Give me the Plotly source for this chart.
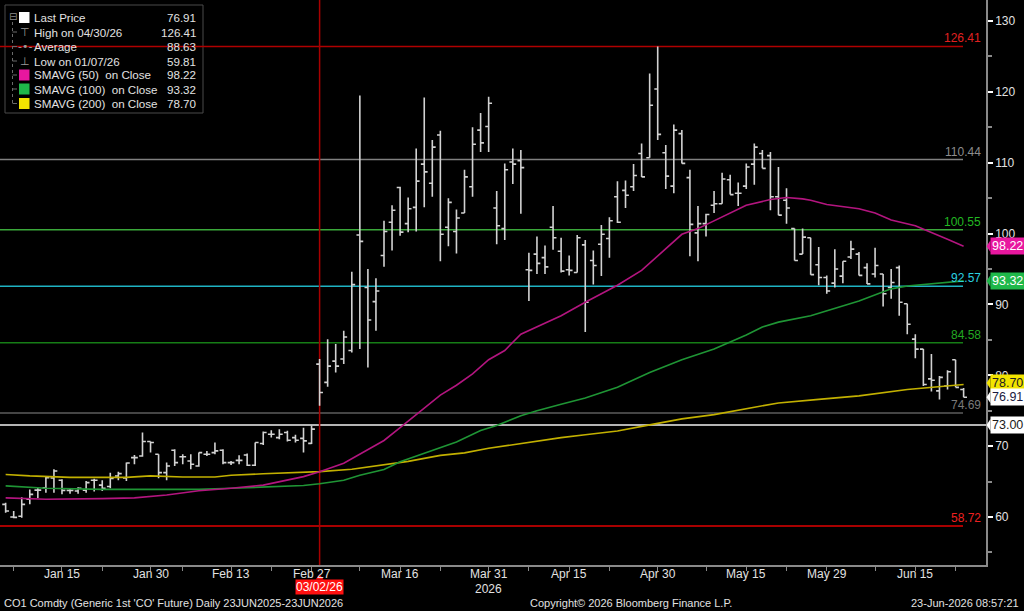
import pandas as pd
import plotly.graph_objects as go

# ---------------- data ----------------
trade_dates = [d.strftime("%Y-%m-%d") for d in pd.bdate_range("2026-01-06", "2026-06-23")
               if d.strftime("%Y-%m-%d") != "2026-04-03"]

opens = [61.78, 60.00, 60.10, 62.50, 63.80, 64.14, 65.50, 65.18, 63.76, 63.67,
         63.80, 65.18, 64.50, 64.30, 65.79, 65.50, 68.38, 68.62, 70.65, 68.86,
         66.26, 69.42, 68.50, 67.91, 67.21, 68.86, 69.09, 69.42, 67.68, 68.00,
         68.76, 67.30, 70.37, 71.69, 71.21, 71.92, 71.21, 71.10, 70.40, 81.58,
         79.00, 82.00, 82.30, 83.50, 99.80, 92.40, 90.40, 96.90, 101.60, 106.50,
         101.40, 103.70, 109.80, 107.10, 113.90, 100.90, 100.30, 102.90, 106.60, 114.60,
         115.10, 103.60, 100.70, 110.10, 110.30, 94.90, 97.10, 96.60, 100.90, 97.50,
         94.90, 94.50, 98.40, 96.20, 98.50, 99.30, 105.20, 106.10, 106.60, 111.30,
         110.70, 120.40, 111.40, 106.70, 114.10, 107.90, 100.10, 101.40, 104.00, 104.20,
         107.60, 105.70, 106.70, 109.80, 111.30, 111.00, 105.20, 104.70, 100.70, 97.10,
         99.40, 95.60, 93.80, 93.00, 94.00, 96.70, 97.10, 95.20, 94.30, 94.30,
         92.40, 95.20, 90.10, 85.10, 83.70, 79.50, 77.80, 78.50, 82.20, 78.00]
highs = [62.02, 60.84, 62.80, 63.90, 64.14, 65.65, 66.73, 65.32, 64.05, 64.20,
         65.08, 65.40, 65.18, 66.26, 66.40, 67.68, 68.76, 71.92, 70.65, 68.86,
         67.68, 69.56, 68.86, 68.86, 69.09, 69.33, 70.51, 69.56, 67.91, 68.71,
         68.95, 70.51, 72.06, 72.25, 72.40, 72.16, 71.60, 72.60, 72.90, 82.30,
         85.10, 84.40, 86.30, 94.60, 119.50, 95.00, 93.70, 101.80, 104.00, 106.60,
         105.10, 112.00, 119.20, 113.20, 114.50, 105.00, 103.40, 109.00, 115.00, 117.00,
         119.30, 106.00, 109.90, 112.00, 111.80, 97.30, 99.60, 98.30, 103.90, 99.40,
         96.90, 99.80, 99.10, 97.60, 101.20, 102.30, 107.40, 107.50, 109.80, 112.70,
         122.60, 126.41, 112.50, 115.40, 114.60, 109.00, 103.90, 102.80, 106.00, 108.60,
         108.30, 107.20, 109.90, 112.70, 111.80, 111.50, 109.40, 106.40, 100.70, 100.70,
         99.40, 98.10, 94.10, 97.80, 96.10, 99.00, 97.40, 95.80, 98.00, 94.30,
         95.00, 95.50, 90.10, 85.80, 83.70, 83.00, 79.90, 80.70, 82.20, 78.20]
lows = [60.60, 59.81, 59.90, 61.80, 62.70, 63.43, 63.43, 63.20, 63.30, 63.30,
        63.43, 63.60, 63.67, 64.05, 65.18, 65.08, 67.44, 68.50, 69.09, 65.46,
        65.18, 67.21, 67.44, 66.73, 67.11, 68.62, 68.86, 67.44, 67.35, 67.44,
        67.21, 67.21, 70.18, 71.21, 70.98, 70.65, 70.51, 69.10, 70.30, 75.70,
        78.40, 80.40, 81.60, 83.20, 83.70, 81.10, 86.30, 95.30, 97.60, 99.70,
        100.20, 100.30, 103.70, 105.20, 96.10, 98.20, 97.20, 102.90, 105.20, 111.50,
        111.50, 98.50, 99.10, 107.00, 102.80, 90.50, 94.30, 94.30, 97.70, 94.50,
        94.10, 94.50, 86.10, 92.80, 94.00, 96.60, 101.50, 103.60, 106.00, 108.00,
        110.70, 113.20, 106.30, 105.70, 109.90, 96.80, 96.10, 99.60, 102.90, 104.20,
        105.50, 103.90, 106.30, 106.90, 109.20, 103.30, 102.60, 101.40, 96.20, 97.10,
        94.20, 92.70, 91.50, 92.40, 93.00, 96.40, 94.10, 92.90, 93.80, 89.70,
        90.80, 88.40, 85.80, 82.40, 78.50, 77.70, 76.60, 78.00, 78.30, 76.90]
closes = [60.84, 59.95, 61.78, 63.20, 63.80, 65.56, 66.50, 63.76, 63.76, 64.05,
          64.85, 65.18, 64.05, 65.46, 66.12, 67.63, 68.38, 70.65, 70.51, 66.26,
          67.21, 67.68, 68.50, 67.44, 69.09, 68.86, 69.33, 67.68, 67.68, 68.00,
          67.30, 70.51, 71.92, 71.69, 71.69, 70.84, 70.84, 70.74, 72.40, 77.57,
          81.30, 81.30, 85.40, 92.80, 98.90, 87.80, 91.90, 100.30, 103.30, 100.20,
          103.50, 107.40, 108.70, 112.20, 99.90, 104.40, 102.20, 108.00, 112.60, 112.80,
          118.40, 101.10, 109.00, 109.80, 109.30, 94.80, 95.80, 95.30, 99.40, 94.70,
          94.80, 99.40, 90.30, 95.50, 99.90, 101.80, 101.60, 105.40, 108.20, 108.00,
          118.10, 114.00, 108.10, 114.60, 109.90, 101.30, 101.40, 102.70, 104.20, 107.70,
          105.50, 105.70, 109.40, 112.20, 109.20, 105.20, 102.60, 103.60, 96.20, 99.50,
          94.20, 93.80, 91.90, 95.00, 96.10, 97.80, 94.10, 92.90, 95.50, 91.50,
          93.10, 90.30, 87.20, 83.70, 78.70, 79.30, 79.70, 80.50, 78.30, 76.91]

sma50_dates = ["2026-01-06", "2026-01-13", "2026-01-22", "2026-01-28", "2026-02-03", "2026-02-09",
               "2026-02-13", "2026-02-19", "2026-02-26", "2026-03-02", "2026-03-05", "2026-03-09",
               "2026-03-12", "2026-03-16", "2026-03-19", "2026-03-23", "2026-03-25", "2026-03-27",
               "2026-03-31", "2026-04-02", "2026-04-07", "2026-04-10", "2026-04-14", "2026-04-17",
               "2026-04-23", "2026-04-28", "2026-04-30", "2026-05-05", "2026-05-07", "2026-05-12",
               "2026-05-15", "2026-05-20", "2026-05-22", "2026-05-26", "2026-05-27", "2026-05-29",
               "2026-06-03", "2026-06-04", "2026-06-08", "2026-06-10", "2026-06-15", "2026-06-17",
               "2026-06-19", "2026-06-23"]
sma50_vals = [62.7, 62.5, 62.6, 62.7, 63.1, 63.7, 64.05, 64.5, 65.7, 66.4, 67.6, 68.9,
              70.8, 72.6, 75.3, 77.2, 78.6, 80.2, 82.2, 83.5, 85.8, 87.3, 88.4, 90.3,
              92.7, 94.8, 96.8, 99.9, 100.7, 102.4, 104.0, 104.8, 105.1, 104.9, 104.7, 104.1,
              103.6, 103.5, 102.9, 101.9, 101.1, 100.2, 99.2, 98.22]

sma100_dates = ["2026-01-06", "2026-01-13", "2026-01-22", "2026-02-09", "2026-02-13", "2026-02-19",
                "2026-02-26", "2026-03-02", "2026-03-05", "2026-03-09", "2026-03-12", "2026-03-16",
                "2026-03-19", "2026-03-23", "2026-03-25", "2026-03-30", "2026-04-01", "2026-04-07",
                "2026-04-09", "2026-04-14", "2026-04-17", "2026-04-23", "2026-04-29", "2026-05-05",
                "2026-05-11", "2026-05-15", "2026-05-19", "2026-05-21", "2026-05-27", "2026-06-04",
                "2026-06-10", "2026-06-12", "2026-06-17", "2026-06-23"]
sma100_vals = [64.4, 64.05, 63.9, 63.9, 64.05, 64.2, 64.45, 64.7, 65.2, 65.9, 66.7, 67.8,
               69.0, 69.8, 70.6, 72.2, 72.9, 74.3, 75.0, 75.9, 76.8, 78.3, 80.4, 82.2,
               83.7, 85.7, 86.8, 87.5, 88.4, 90.5, 92.2, 92.6, 92.9, 93.32]

sma200_dates = ["2026-01-06", "2026-01-09", "2026-01-16", "2026-01-27", "2026-01-30", "2026-02-05",
                "2026-02-11", "2026-02-13", "2026-02-19", "2026-02-26", "2026-03-02", "2026-03-06",
                "2026-03-12", "2026-03-17", "2026-03-23", "2026-03-26", "2026-03-31", "2026-04-02",
                "2026-04-08", "2026-04-14", "2026-04-17", "2026-04-23", "2026-04-29", "2026-05-05",
                "2026-05-11", "2026-05-18", "2026-05-21", "2026-05-28", "2026-06-04", "2026-06-12",
                "2026-06-18", "2026-06-23"]
sma200_vals = [66.0, 65.8, 65.6, 65.6, 65.8, 65.65, 65.65, 65.9, 66.1, 66.25, 66.4, 66.75,
               67.35, 67.85, 68.7, 69.05, 69.7, 70.05, 70.6, 71.2, 71.6, 72.15, 73.0, 73.85,
               74.45, 75.45, 76.1, 76.6, 77.1, 78.0, 78.35, 78.7]

fib_levels = [126.41, 110.44, 100.55, 92.57, 84.58, 74.69, 58.72]
ref_level = 73.00
marker_date = "2026-03-02"

label_dates = ["2026-01-15", "2026-01-30", "2026-02-13", "2026-02-27", "2026-03-16", "2026-03-31",
               "2026-04-15", "2026-04-30", "2026-05-15", "2026-05-29", "2026-06-15"]
label_texts = ["Jan 15", "Jan 30", "Feb 13", "Feb 27", "Mar 16", "Mar 31",
               "Apr 15", "Apr 30", "May 15", "May 29", "Jun 15"]
minor_dates = ["2026-01-07", "2026-01-22", "2026-02-05", "2026-02-20", "2026-03-09", "2026-03-23",
               "2026-04-08", "2026-04-22", "2026-05-08", "2026-05-22", "2026-06-08", "2026-06-22"]
y_ticks = [60, 70, 80, 90, 100, 110, 120, 130]

legend_names = ["Last Price", "High on 04/30/26", "Average", "Low on 01/07/26",
                "SMAVG (50)\u00a0\u00a0on Close", "SMAVG (100)\u00a0\u00a0on Close",
                "SMAVG (200)\u00a0\u00a0on Close"]
legend_values = ["76.91", "126.41", "88.63", "59.81", "98.22", "93.32", "78.70"]

# ---------------- styles ----------------
FONT = "Liberation Sans, Arial, sans-serif"
TXT = "#e2e2e2"
BAR = "#d2d2d2"
MAG_LINE, GRN_LINE, YEL_LINE = "#b3157f", "#1f9535", "#c2b000"
MAG, GRN, YEL = "#e8179f", "#1fb84a", "#f2e400"
fib_line_colors = ["#b00000", "#808080", "#3aa83a", "#1fb3c3", "#167d16", "#5c5c5c", "#e00000"]
fib_text_colors = ["#e02020", "#8c8c8c", "#22b822", "#2ad0e0", "#22a822", "#7a7a7a", "#ee2020"]

W, H = 986.0, 565.0


def PX(x):
    return x / W


def PY(y):
    return 1 - y / H


pos = {d: i for i, d in enumerate(trade_dates)}
xs = [pos[d] for d in trade_dates]

fig = go.Figure()
fig.add_trace(go.Ohlc(x=xs, open=opens, high=highs, low=lows, close=closes,
                      increasing=dict(line=dict(color=BAR, width=1.6)),
                      decreasing=dict(line=dict(color=BAR, width=1.6)),
                      tickwidth=0.42, hoverinfo="skip", showlegend=False))
for dts, vals, col in [(sma200_dates, sma200_vals, YEL_LINE),
                       (sma100_dates, sma100_vals, GRN_LINE),
                       (sma50_dates, sma50_vals, MAG_LINE)]:
    fig.add_trace(go.Scatter(x=[pos[d] for d in dts], y=vals, mode="lines",
                             line=dict(color=col, width=1.6), hoverinfo="skip",
                             showlegend=False))

shapes = []
annotations = []

# legend box
shapes.append(dict(type="rect", xref="paper", yref="paper", x0=PX(5), x1=PX(203),
                   y0=PY(5), y1=PY(113), line=dict(color="#4a4a4a", width=1),
                   fillcolor="#000000", layer="below"))

# fib levels
last_x = PX(963)
for lvl, lc, tc in zip(fib_levels, fib_line_colors, fib_text_colors):
    shapes.append(dict(type="line", xref="paper", yref="y", x0=0, x1=last_x, y0=lvl, y1=lvl,
                       line=dict(color=lc, width=1.5), layer="below"))
    annotations.append(dict(xref="paper", yref="y", x=PX(982), y=lvl, text=f"{lvl:.2f}",
                            xanchor="right", yanchor="bottom", showarrow=False,
                            font=dict(family=FONT, size=12, color=tc), borderpad=0))
shapes.append(dict(type="line", xref="paper", yref="y", x0=0, x1=1, y0=ref_level, y1=ref_level,
                   line=dict(color="#f0f0f0", width=1.5), layer="below"))

# marker vertical line
mx = pos[marker_date]
shapes.append(dict(type="line", xref="x", yref="paper", x0=mx, x1=mx, y0=0, y1=1,
                   line=dict(color="#a80000", width=1.5), layer="below"))
annotations.append(dict(xref="x", yref="paper", x=mx, y=PY(587),
                        text=pd.Timestamp(marker_date).strftime("%m/%d/%y"),
                        showarrow=False, bgcolor="#ff1010", borderpad=0,
                        font=dict(family=FONT, size=12, color="#ffffff"),
                        xanchor="center", yanchor="middle"))
half = 4.0 / 8.05
shapes.append(dict(type="path", xref="x", yref="paper",
                   path=f"M {mx - half},{PY(579.5)} L {mx + half},{PY(579.5)} L {mx},{PY(574.5)} Z",
                   fillcolor="#ff1010", line=dict(width=0)))

# x tick labels
for d, t in zip(label_dates, label_texts):
    annotations.append(dict(xref="x", yref="paper", x=pos[d], y=PY(573.5), text=t,
                            showarrow=False, xanchor="center", yanchor="middle",
                            font=dict(family=FONT, size=12, color=TXT)))

# right side value boxes
right_labels = [(sma50_vals[-1], 0, MAG, "#ffffff"),
                (sma100_vals[-1], 0, GRN, "#ffffff"),
                (sma200_vals[-1], 1.5, YEL, "#202020"),
                (closes[-1], 0, "#ffffff", "#1a1a40"),
                (ref_level, 0, "#ffffff", "#1a1a1a")]
for val, shift, bg, fg in right_labels:
    annotations.append(dict(xref="paper", yref="y", x=PX(990), y=val, yshift=shift,
                            text=f"{val:.2f}", showarrow=False, xanchor="left", yanchor="middle",
                            bgcolor=bg, borderpad=1,
                            font=dict(family=FONT, size=12.5, color=fg)))
    yy = val + shift / 7.086
    shapes.append(dict(type="path", xref="paper", yref="y",
                       path=f"M {PX(986.5)},{yy} L {PX(990.5)},{yy + 0.85} L {PX(990.5)},{yy - 0.85} Z",
                       fillcolor=bg, line=dict(width=0)))

# legend contents
rows = [17.5, 32, 46.5, 61, 75, 89, 103.5]
for r, name, val in zip(rows, legend_names, legend_values):
    annotations.append(dict(xref="paper", yref="paper", x=PX(32), y=PY(r), text=name,
                            showarrow=False, xanchor="left", yanchor="middle",
                            font=dict(family=FONT, size=11.6, color=TXT)))
    annotations.append(dict(xref="paper", yref="paper", x=PX(198), y=PY(r), text=val,
                            showarrow=False, xanchor="right", yanchor="middle",
                            font=dict(family=FONT, size=11.6, color=TXT)))
for r, col in [(rows[0], "#ffffff"), (rows[4], MAG), (rows[5], GRN), (rows[6], YEL)]:
    shapes.append(dict(type="rect", xref="paper", yref="paper", x0=PX(19), x1=PX(29.5),
                       y0=PY(r - 5.5), y1=PY(r + 5.5), fillcolor=col, line=dict(width=0)))
for r, glyph in [(rows[1], "\u22a4"), (rows[2], "-\u2022-"), (rows[3], "\u22a5")]:
    annotations.append(dict(xref="paper", yref="paper", x=PX(24.5), y=PY(r), text=glyph,
                            showarrow=False, xanchor="center", yanchor="middle",
                            font=dict(family="DejaVu Sans", size=11, color="#9a9a9a")))
annotations.append(dict(xref="paper", yref="paper", x=PX(12.5), y=PY(rows[0] - 1), text="\u229f",
                        showarrow=False, xanchor="center", yanchor="middle",
                        font=dict(family="DejaVu Sans", size=10, color="#8a8a8a")))
shapes.append(dict(type="line", xref="paper", yref="paper", x0=PX(12.5), x1=PX(12.5),
                   y0=PY(22), y1=PY(rows[-1]), line=dict(color="#6a6a6a", width=1, dash="dot")))
for r in rows[1:]:
    shapes.append(dict(type="line", xref="paper", yref="paper", x0=PX(12.5), x1=PX(17),
                       y0=PY(r), y1=PY(r), line=dict(color="#6a6a6a", width=1)))

# footer texts
annotations.append(dict(xref="paper", yref="paper", x=PX(2), y=PY(603),
                        text="CO1 Comdty (Generic 1st 'CO' Future) Daily 23JUN2025-23JUN2026",
                        showarrow=False, xanchor="left", yanchor="middle",
                        font=dict(family=FONT, size=11, color=TXT)))
annotations.append(dict(xref="paper", yref="paper", x=PX(631), y=PY(603),
                        text="Copyright\u00a9 2026 Bloomberg Finance L.P.",
                        showarrow=False, xanchor="center", yanchor="middle",
                        font=dict(family=FONT, size=11, color=TXT)))
annotations.append(dict(xref="paper", yref="paper", x=PX(1021), y=PY(603),
                        text="23-Jun-2026 08:57:21",
                        showarrow=False, xanchor="right", yanchor="middle",
                        font=dict(family=FONT, size=11, color=TXT)))
annotations.append(dict(xref="x", yref="paper", x=pos["2026-03-31"], y=PY(588.5), text="2026",
                        showarrow=False, xanchor="center", yanchor="middle",
                        font=dict(family=FONT, size=12, color=TXT)))

fig.update_layout(
    width=1024, height=611,
    margin=dict(l=0, r=38, t=0, b=46),
    paper_bgcolor="#000000", plot_bgcolor="#000000",
    showlegend=False,
    shapes=shapes, annotations=annotations,
    xaxis=dict(range=[-0.70, 121.78], showgrid=False, zeroline=False,
               showline=True, linecolor="#8a8a8a", linewidth=1.5,
               ticks="outside", ticklen=4, tickcolor="#8a8a8a", tickwidth=1,
               tickvals=[pos[d] for d in label_dates], showticklabels=False,
               minor=dict(tickvals=[pos[d] for d in minor_dates], ticks="outside",
                          ticklen=4, tickcolor="#8a8a8a"),
               rangeslider=dict(visible=False), fixedrange=True),
    yaxis=dict(side="right", range=[53.23, 132.96], showgrid=False, zeroline=False,
               showline=True, linecolor="#8a8a8a", linewidth=1.5,
               ticks="outside", ticklen=5, tickwidth=2, tickcolor="#ffffff",
               tickvals=y_ticks, tickfont=dict(family=FONT, size=12, color=TXT),
               minor=dict(dtick=5, ticks="outside", ticklen=4, tickcolor="#8a8a8a"),
               fixedrange=True),
)

fig.write_html("out.html")
